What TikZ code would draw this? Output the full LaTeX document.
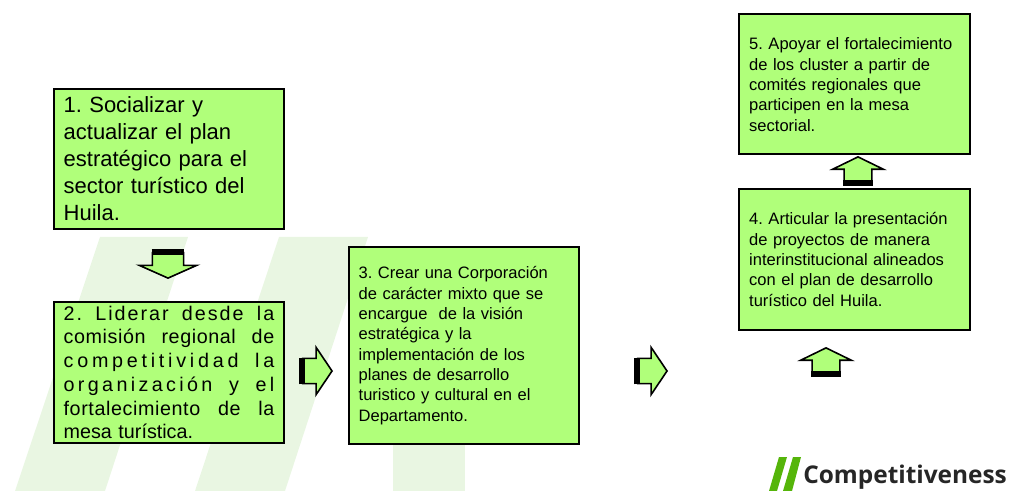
\documentclass[tikz,border=0pt]{standalone}
\usepackage{fontspec}
\setmainfont{Liberation Sans}
\newfontfamily\logofont{Open Sans}
\usetikzlibrary{shapes.arrows}
\definecolor{verdecaja}{HTML}{B0FF7A}
\definecolor{verdefondo}{HTML}{E9F6E2}
\definecolor{verdelogo}{HTML}{55B50A}
\newcommand{\renglon}[2]{\makebox[158pt][s]{\addfontfeature{LetterSpace=#1}#2}}
\tikzset{
  caja/.style={draw=black,line width=1.5pt,fill=verdecaja,minimum width=173pt,inner xsep=7.5pt,inner ysep=0pt,text width=158pt,align=left},
  chica/.style={caja,font=\fontsize{12.4}{15.25}\selectfont},
  flecha/.style={single arrow,draw=black,line width=1.2pt,fill=verdecaja,inner xsep=0pt,anchor=tip},
  flechav/.style={flecha,inner ysep=8pt,minimum height=19pt,minimum width=43pt,single arrow tip angle=132},
  flechas/.style={flechav,minimum width=38pt,single arrow tip angle=128},
  flechah/.style={flecha,inner ysep=7.5pt,minimum height=22pt,minimum width=35.5pt,single arrow tip angle=112},
  base/.style={line width=4.5pt,line cap=butt}
}
\begin{document}
\frenchspacing
\begin{tikzpicture}[x=.75pt,y=-.75pt]
  \useasboundingbox (0,0) rectangle (1009,491);
  % franjas del fondo
  \fill[verdefondo] (100,237) -- (188,237) -- (105,491) -- (15,491) -- cycle;
  \fill[verdefondo] (279,237) -- (368,237) -- (285,491) -- (195,491) -- cycle;
  \fill[verdefondo] (393,440) rectangle (465,491);
  % cajas
  \node[caja,minimum height=105.5pt,font=\fontsize{16.5}{20.2}\selectfont] (uno) at (169,159) {1. Socializar y\\actualizar el plan\\estratégico para el\\sector turístico del\\Huila.};
  \node[caja,minimum height=105pt,font=\fontsize{14.8}{17.8}\selectfont] (dos) at (169,372.5) {\renglon{10}{2.\hfill Liderar\hfill desde\hfill la}\\\renglon{3}{comisión\hfill regional\hfill de}\\\renglon{19}{competitividad\hfill la}\\\renglon{17}{organización\hfill y\hfill el}\\\renglon{3}{fortalecimiento\hfill de\hfill la}\\mesa turística.};
  \node[chica,minimum height=147pt] (tres) at (464,345.5) {3. Crear una Corporación\\de carácter mixto que se\\encargue\ \ de la visión\\estratégica y la\\implementación de los\\planes de desarrollo\\turistico y cultural en el\\Departamento.};
  \node[chica,minimum height=105pt] (cuatro) at (854.5,259.5) {4. Articular la presentación\\de proyectos de manera\\interinstitucional alineados\\con el plan de desarrollo\\turístico del Huila.};
  \node[chica,minimum height=105pt] (cinco) at (854.5,84.5) {5. Apoyar el fortalecimiento\\de los cluster a partir de\\comités regionales que\\participen en la mesa\\sectorial.};
  % flechas
  \node[flechav,rotate=-90] (bajauno) at (168,279) {};
  \node[flechah] (derdos) at (333,371) {};
  \node[flechah] (dertres) at (668,371) {};
  \node[flechas,rotate=90] (subeuno) at (826,347) {};
  \node[flechas,rotate=90] (subedos) at (858,156) {};
  \foreach \f in {bajauno,derdos,dertres,subeuno,subedos}
    \draw[base] (\f.before tail) -- (\f.after tail);
  % logo
  \fill[verdelogo] (779,457) -- (787,457) -- (777,491) -- (769,491) -- cycle;
  \fill[verdelogo] (793,457) -- (801,457) -- (792,491) -- (783,491) -- cycle;
  \node[inner sep=0pt,anchor=base west,font=\logofont\bfseries\fontsize{18.3}{22}\selectfont,text=black!85] (marca) at (803,483) {Competitiveness};
\end{tikzpicture}
\end{document}
